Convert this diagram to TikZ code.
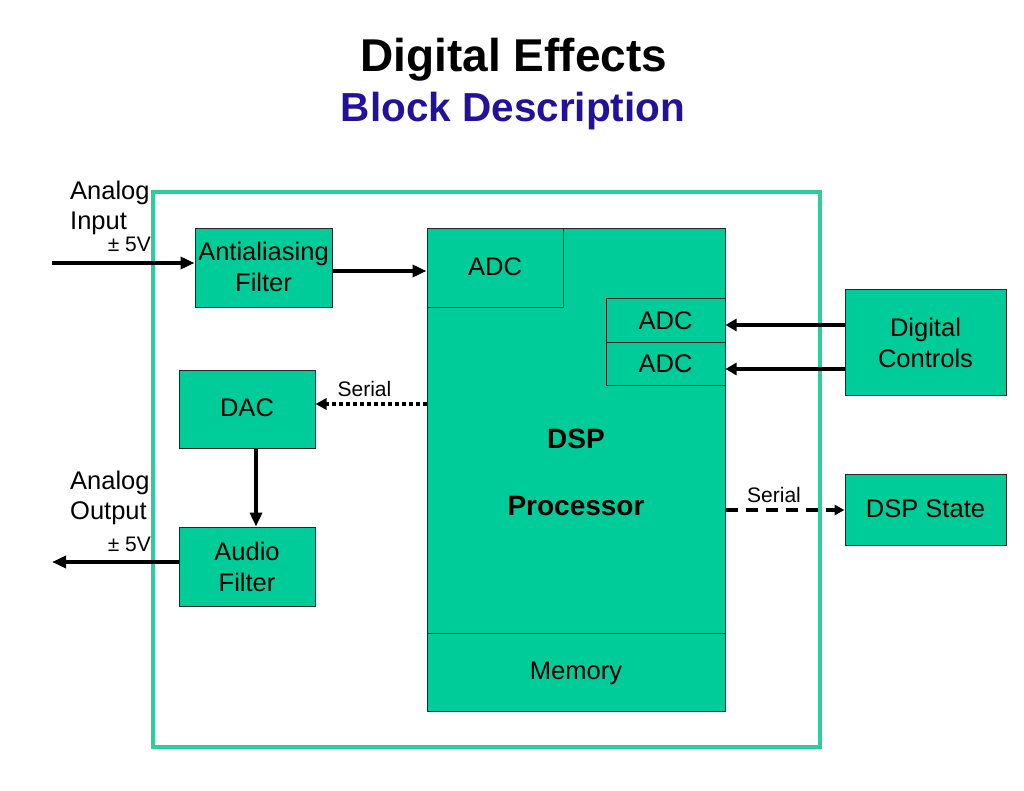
\documentclass[tikz,border=0pt]{standalone}
\usepackage{fontspec}
\setmainfont{Liberation Sans}
\usetikzlibrary{arrows.meta}
\definecolor{boxfill}{RGB}{0,204,153}
\definecolor{framec}{RGB}{45,206,158}
\definecolor{titleblue}{RGB}{34,17,154}
\begin{document}
\begin{tikzpicture}[x=1pt,y=-1pt,
  blk/.style={draw=black!85, line width=1pt, fill=boxfill, inner sep=0pt, align=center, font=\fontsize{25.5}{31}\selectfont},
  lbl/.style={font=\fontsize{25.5}{29.5}\selectfont, inner sep=0pt, align=left},
  sml/.style={font=\fontsize{21}{25}\selectfont, inner sep=0pt},
  conn/.style={line width=4pt, -{Triangle[length=14pt,width=12pt]}},
  conns/.style={line width=4pt, -{Triangle[length=11pt,width=12pt]}},
]
\useasboundingbox (0,0) rectangle (1024,791);
% titles
\node[font=\bfseries\fontsize{46}{50}\selectfont, anchor=base, inner sep=0pt] (t1) at (514,72) {Digital Effects};
\node[font=\bfseries\fontsize{40.5}{44}\selectfont, text=titleblue, anchor=base, inner sep=0pt] (t2) at (513,122) {Block Description};
% frame
\draw[framec, line width=4pt] (153,192) rectangle (820,747);
% blocks
\node[blk, minimum width=137pt, minimum height=78pt, text depth=2pt] (aa) at (263.5,268) {Antialiasing\\Filter};
\node[blk, minimum width=298pt, minimum height=404pt] (dsp) at (576,431) {};
\node[blk, minimum width=298pt, minimum height=78pt, text depth=3pt] (mem) at (576,672) {Memory};
\node[blk, minimum width=136pt, minimum height=78pt, text depth=2pt] (adc1) at (495,268) {ADC};
\node[blk, minimum width=119pt, minimum height=43.5pt] (adc2) at (665.5,320.5) {ADC};
\node[blk, minimum width=119pt, minimum height=43.5pt] (adc3) at (665.5,364) {ADC};
\node[font=\bfseries\fontsize{28}{33.5}\selectfont, align=center, inner sep=0pt] (dsptxt) at (576,472) {DSP\\[33.5pt]Processor};
\node[blk, minimum width=136pt, minimum height=78pt, text depth=2pt] (dac) at (247,409) {DAC};
\node[blk, minimum width=136pt, minimum height=79pt] (af) at (247,566.5) {Audio\\Filter};
\node[blk, minimum width=161pt, minimum height=105pt] (dc) at (925.5,342.5) {Digital\\Controls};
\node[blk, minimum width=161pt, minimum height=71pt, text depth=2pt] (ds) at (925.5,509.5) {DSP State};
% labels
\node[lbl, anchor=north west] (ain) at (70,181) {Analog\\Input};
\node[lbl, anchor=north west] (aout) at (70,471) {Analog\\Output};
\node[sml, anchor=base east] (vin) at (151,252) {± 5V};
\node[sml, anchor=base east] (vout) at (151,551) {± 5V};
\node[sml, anchor=base] (ser1) at (364.5,396) {Serial};
\node[sml, anchor=base] (ser2) at (774,502) {Serial};
% coordinates
\coordinate (inL) at (52,263);
\coordinate (outL) at (52,562);
\coordinate (y271) at (0,271);
\coordinate (y404) at (0,404);
\coordinate (x256) at (256,0);
\coordinate (y325) at (0,325);
\coordinate (y369) at (0,369);
\coordinate (y510) at (0,510);
% connectors
\draw[conn] (inL) -- (aa.west |- inL);
\draw[conn] (aa.east |- y271) -- (adc1.west |- y271);
\draw[line width=4pt, dash pattern=on 4pt off 3pt, -{Triangle[length=11pt,width=11pt]}] (dsp.west |- y404) -- (dac.east |- y404);
\draw[conn] (dac.south -| x256) -- (af.north -| x256);
\draw[conn] (af.west |- outL) -- (outL);
\draw[conns] (dc.west |- y325) -- (adc2.east |- y325);
\draw[conns] (dc.west |- y369) -- (adc3.east |- y369);
\draw[line width=4pt, dash pattern=on 12pt off 8pt, -{Triangle[length=10pt,width=10pt]}] (dsp.east |- y510) -- (ds.west |- y510);
\end{tikzpicture}
\end{document}
